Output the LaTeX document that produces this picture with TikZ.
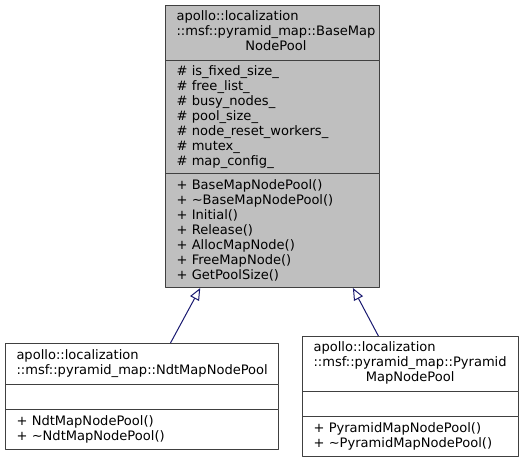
\documentclass[tikz,border=0pt]{standalone}
\usepackage{fontspec}
\setmainfont{DejaVu Sans}
\usetikzlibrary{positioning, calc}
\usetikzlibrary{arrows.meta}
\definecolor{grey75}{rgb}{0.75,0.75,0.75}
\definecolor{grey25}{rgb}{0.25,0.25,0.25}
\definecolor{edgecol}{rgb}{0.098,0.098,0.439}
\def\lastline#1{\multicolumn{1}{@{}c@{}}{#1}}
\begin{document}
\begin{tikzpicture}[>={Triangle[open,length=12bp,width=10bp]},line join=bevel,
    font=\fontsize{13.05bp}{15bp}\selectfont,
    part/.style={draw=grey25,line width=1bp,anchor=north west,align=left,
      inner xsep=11bp,inner ysep=0pt}]
      \useasboundingbox (0bp,0bp) rectangle (523bp,463bp);
      %% base class
      \node (base) at (165bp,458bp) [part,fill=grey75,text width=192bp,minimum height=55bp]
        {\begin{tabular}{@{}l@{}}apollo::localization\\::msf::pyramid\_map::BaseMap\\\lastline{NodePool}\end{tabular}};
      \node (baseattr) at (165bp,403bp) [part,fill=grey75,text width=192bp,minimum height=113bp]
        {\# is\_fixed\_size\_\\\# free\_list\_\\\# busy\_nodes\_\\\# pool\_size\_\\\# node\_reset\_workers\_\\\# mutex\_\\\# map\_config\_};
      \node (basemeth) at (165bp,290bp) [part,fill=grey75,text width=192bp,minimum height=114bp]
        {+ BaseMapNodePool()\\+ \textasciitilde BaseMapNodePool()\\+ Initial()\\+ Release()\\+ AllocMapNode()\\+ FreeMapNode()\\+ GetPoolSize()};
      %% ndt
      \node (ndt) at (5bp,120bp) [part,fill=white,text width=251bp,minimum height=41bp]
        {apollo::localization\\::msf::pyramid\_map::NdtMapNodePool};
      \node (ndtattr) at (5bp,79bp) [part,fill=white,text width=251bp,minimum height=25bp] {};
      \node (ndtmeth) at (5bp,54bp) [part,fill=white,text width=251bp,minimum height=40bp]
        {+ NdtMapNodePool()\\+ \textasciitilde NdtMapNodePool()};
      %% pyramid
      \node (pyr) at (302bp,127bp) [part,fill=white,text width=194bp,minimum height=55bp]
        {\begin{tabular}{@{}l@{}}apollo::localization\\::msf::pyramid\_map::Pyramid\\\lastline{MapNodePool}\end{tabular}};
      \node (pyrattr) at (302bp,72bp) [part,fill=white,text width=194bp,minimum height=25bp] {};
      \node (pyrmeth) at (302bp,47bp) [part,fill=white,text width=194bp,minimum height=40bp]
        {+ PyramidMapNodePool()\\+ \textasciitilde PyramidMapNodePool()};
      %% inheritance
      \draw [->,edgecol,line width=1bp] ($(ndt.north west)!0.604!(ndt.north east)$) -- ($(basemeth.south west)!0.164!(basemeth.south east)$);
      \draw [->,edgecol,line width=1bp] ($(pyr.north west)!0.352!(pyr.north east)$) -- ($(basemeth.south west)!0.874!(basemeth.south east)$);
    \end{tikzpicture}
\end{document}
